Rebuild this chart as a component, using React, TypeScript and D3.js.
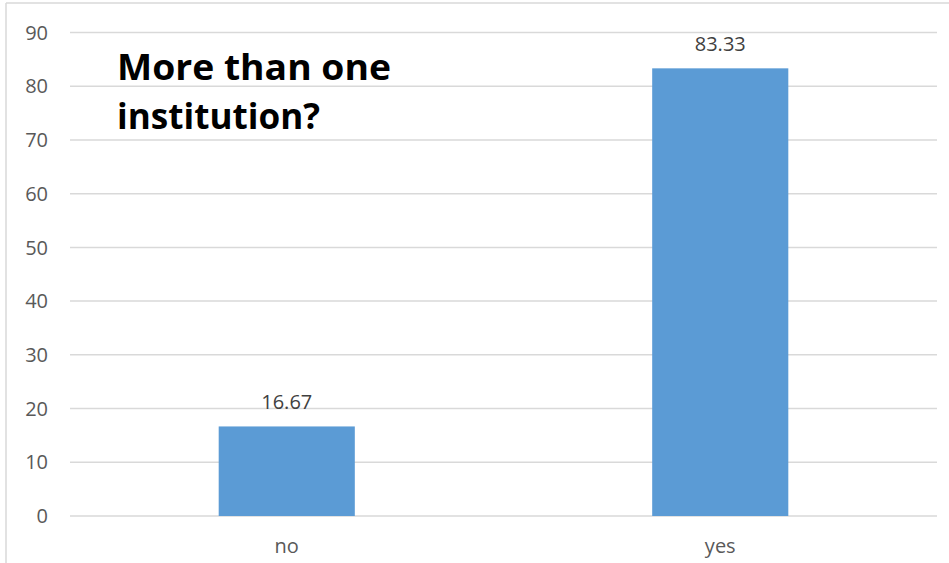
import React from "react";
import * as d3 from "d3";

const categories = ["no", "yes"];
const values = [16.67, 83.33];
const yTicks = [0, 10, 20, 30, 40, 50, 60, 70, 80, 90];
const titleLines = ["More than one", "institution?"];
const titleWidths = [274, 203];

export default function App() {
  const W = 949, H = 563;
  const left = 70, right = 937, top = 32.5, bottom = 516;
  const x = d3.scaleBand().domain(categories).range([left, right]).paddingInner(0.686).paddingOuter(0.343);
  const y = d3.scaleLinear().domain([0, 90]).range([bottom, top]);
  const font = "'Open Sans', sans-serif";
  return (
    <svg width={W} height={H} style={{ position: "absolute", left: 0, top: 0, display: "block", background: "#fff" }}>
      <line x1={6} x2={6} y1={3} y2={H} stroke="#d9d9d9" strokeWidth={1.5} />
      <line x1={6} x2={W} y1={3} y2={3} stroke="#d9d9d9" strokeWidth={1.5} />
      {yTicks.map((t) => (
        <g key={t}>
          <line x1={left} x2={right} y1={y(t)} y2={y(t)} stroke="#d9d9d9" strokeWidth={1.5} />
          <text x={48} y={y(t)} dy="0.36em" textAnchor="end" fontFamily={font} fontSize={20} fill="#595959">{t}</text>
        </g>
      ))}
      {categories.map((c, i) => {
        const bx = x(c)!;
        const bw = x.bandwidth();
        return (
          <g key={c}>
            <rect x={bx} y={y(values[i])} width={bw} height={y(0) - y(values[i])} fill="#5b9bd5" />
            <text x={bx + bw / 2} y={y(values[i]) - 17.5} textAnchor="middle" fontFamily={font} fontSize={20} fill="#404040">{values[i].toFixed(2)}</text>
            <text x={bx + bw / 2} y={553} textAnchor="middle" fontFamily={font} fontSize={20} fill="#595959">{c}</text>
          </g>
        );
      })}
      {titleLines.map((l, i) => (
        <text key={l} x={117} y={80 + i * 49} fontFamily={font} fontWeight={700} fontSize={36}
          textLength={titleWidths[i]} lengthAdjust="spacingAndGlyphs" fill="#000">{l}</text>
      ))}
    </svg>
  );
}
